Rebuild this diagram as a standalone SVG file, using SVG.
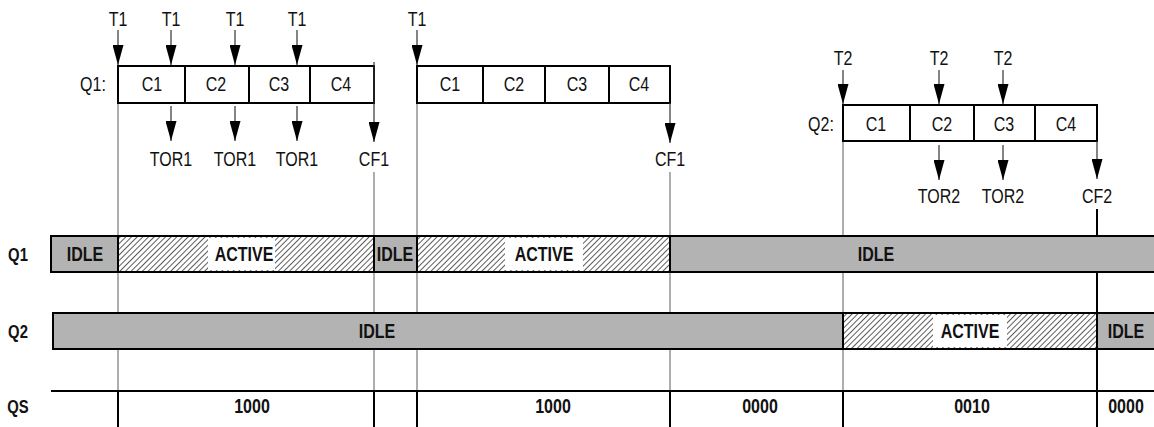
<svg xmlns="http://www.w3.org/2000/svg" width="1154" height="427" viewBox="0 0 1154 427">
<style>
.t,.b,.r{font-family:"Liberation Sans",Arial,sans-serif;font-size:20px;fill:#111;text-anchor:middle;transform-box:fill-box;transform-origin:center;transform:scaleX(0.8)}
.b{font-weight:bold}
.r{font-weight:bold;font-size:19px;transform:scaleX(0.78)}
.cell{fill:#fff;stroke:#000;stroke-width:2}
.idle{fill:#b3b3b3;stroke:#000;stroke-width:2}
.act{fill:url(#hatch);stroke:#000;stroke-width:2}
.lbg{fill:#fff}
.arr{stroke:#333;stroke-width:1.2;fill:none;marker-end:url(#ah)}
.guide{stroke:#777;stroke-width:1.2;fill:none}
.dark{stroke:#000;stroke-width:2;fill:none}
</style>
<defs>
<marker id="ah" viewBox="0 0 20 11" markerWidth="20" markerHeight="11" refX="20" refY="5.5" orient="auto" markerUnits="userSpaceOnUse">
<path d="M0,0 L20,5.5 L0,11 z" fill="#000"/>
</marker>
<pattern id="hatch" patternUnits="userSpaceOnUse" width="4" height="4" patternTransform="rotate(45)">
<rect width="4" height="4" fill="#fff"/>
<line x1="0.5" y1="0" x2="0.5" y2="4" stroke="#333" stroke-width="0.8"/>
</pattern>
</defs>
<rect width="1154" height="427" fill="#fff"/>

<g id="guides">
<line class="guide" x1="118" y1="103" x2="118" y2="391"/>
<line class="guide" x1="374" y1="172" x2="374" y2="391"/>
<line class="guide" x1="417" y1="103" x2="417" y2="391"/>
<line class="guide" x1="670" y1="172" x2="670" y2="391"/>
<line class="guide" x1="843" y1="141" x2="843" y2="391"/>
<line class="dark" x1="1097" y1="209" x2="1097" y2="391"/>
</g>

<g id="bars">
<rect class="idle" x="51" y="236" width="67" height="36"/>
<rect class="act" x="118" y="236" width="256" height="36"/>
<rect class="idle" x="374" y="236" width="43" height="36"/>
<rect class="act" x="417" y="236" width="253" height="36"/>
<rect class="idle" x="670" y="236" width="500" height="36"/>
<rect class="lbg" x="208" y="238" width="67" height="32"/>
<rect class="lbg" x="505" y="238" width="78" height="32"/>
<text class="b" x="85" y="261">IDLE</text>
<text class="b" x="244" y="261">ACTIVE</text>
<text class="b" x="395" y="261">IDLE</text>
<text class="b" x="544" y="261">ACTIVE</text>
<text class="b" x="876" y="261">IDLE</text>

<rect class="idle" x="53" y="313" width="790" height="36"/>
<rect class="act" x="843" y="313" width="254" height="36"/>
<rect class="idle" x="1097" y="313" width="70" height="36"/>
<rect class="lbg" x="933" y="315" width="74" height="32"/>
<text class="b" x="377" y="338">IDLE</text>
<text class="b" x="970" y="338">ACTIVE</text>
<text class="b" x="1126" y="338">IDLE</text>
</g>

<g id="qs">
<line class="dark" x1="51" y1="391" x2="1154" y2="391"/>
<line class="dark" x1="118" y1="391" x2="118" y2="427"/>
<line class="dark" x1="374" y1="391" x2="374" y2="427"/>
<line class="dark" x1="417" y1="391" x2="417" y2="427"/>
<line class="dark" x1="670" y1="391" x2="670" y2="427"/>
<line class="dark" x1="843" y1="391" x2="843" y2="427"/>
<line class="dark" x1="1097" y1="391" x2="1097" y2="427"/>
<text class="b" x="252" y="413">1000</text>
<text class="b" x="553" y="413">1000</text>
<text class="b" x="760" y="413">0000</text>
<text class="b" x="972" y="413">0010</text>
<text class="b" x="1126" y="413">0000</text>
</g>

<g id="row-labels">
<text class="r" x="18" y="261">Q1</text>
<text class="r" x="18" y="338">Q2</text>
<text class="r" x="18" y="413">QS</text>
</g>

<g id="q1-first">
<text class="t" x="93" y="91">Q1:</text>
<rect class="cell" x="118" y="66" width="256" height="37"/>
<line class="dark" x1="185" y1="66" x2="185" y2="103"/>
<line class="dark" x1="249" y1="66" x2="249" y2="103"/>
<line class="dark" x1="310" y1="66" x2="310" y2="103"/>
<text class="t" x="152" y="91">C1</text>
<text class="t" x="216" y="91">C2</text>
<text class="t" x="279" y="91">C3</text>
<text class="t" x="341" y="91">C4</text>
</g>

<g id="q1-second">
<rect class="cell" x="417" y="66" width="253" height="37"/>
<line class="dark" x1="483" y1="66" x2="483" y2="103"/>
<line class="dark" x1="545" y1="66" x2="545" y2="103"/>
<line class="dark" x1="609" y1="66" x2="609" y2="103"/>
<text class="t" x="450" y="91">C1</text>
<text class="t" x="514" y="91">C2</text>
<text class="t" x="577" y="91">C3</text>
<text class="t" x="639" y="91">C4</text>
</g>

<g id="q2">
<text class="t" x="821" y="131">Q2:</text>
<rect class="cell" x="843" y="105" width="254" height="36"/>
<line class="dark" x1="910" y1="105" x2="910" y2="141"/>
<line class="dark" x1="974" y1="105" x2="974" y2="141"/>
<line class="dark" x1="1035" y1="105" x2="1035" y2="141"/>
<text class="t" x="876" y="131">C1</text>
<text class="t" x="942" y="131">C2</text>
<text class="t" x="1004" y="131">C3</text>
<text class="t" x="1066" y="131">C4</text>
</g>

<g id="connectors">
<line class="arr" x1="118" y1="30" x2="118" y2="65"/>
<line class="arr" x1="171" y1="30" x2="171" y2="65"/>
<line class="arr" x1="235" y1="30" x2="235" y2="65"/>
<line class="arr" x1="297" y1="30" x2="297" y2="65"/>
<line class="arr" x1="417" y1="30" x2="417" y2="65"/>
<line class="arr" x1="171" y1="106" x2="171" y2="141"/>
<line class="arr" x1="235" y1="106" x2="235" y2="141"/>
<line class="arr" x1="297" y1="106" x2="297" y2="141"/>
<line class="arr" x1="374" y1="62" x2="374" y2="142"/>
<line class="arr" x1="670" y1="103" x2="670" y2="143"/>
<line class="arr" x1="843" y1="70" x2="843" y2="104"/>
<line class="arr" x1="939" y1="70" x2="939" y2="104"/>
<line class="arr" x1="1003" y1="70" x2="1003" y2="104"/>
<line class="arr" x1="939" y1="145" x2="939" y2="180"/>
<line class="arr" x1="1003" y1="145" x2="1003" y2="180"/>
<line class="arr" x1="1097" y1="141" x2="1097" y2="179"/>
</g>

<g id="event-labels">
<text class="t" x="118" y="26">T1</text>
<text class="t" x="171" y="26">T1</text>
<text class="t" x="235" y="26">T1</text>
<text class="t" x="297" y="26">T1</text>
<text class="t" x="417" y="26">T1</text>
<text class="t" x="171" y="166">TOR1</text>
<text class="t" x="235" y="166">TOR1</text>
<text class="t" x="297" y="166">TOR1</text>
<text class="t" x="374" y="166">CF1</text>
<text class="t" x="670" y="166">CF1</text>
<text class="t" x="843" y="65">T2</text>
<text class="t" x="939" y="65">T2</text>
<text class="t" x="1003" y="65">T2</text>
<text class="t" x="939" y="203">TOR2</text>
<text class="t" x="1003" y="203">TOR2</text>
<text class="t" x="1097" y="203">CF2</text>
</g>
</svg>
